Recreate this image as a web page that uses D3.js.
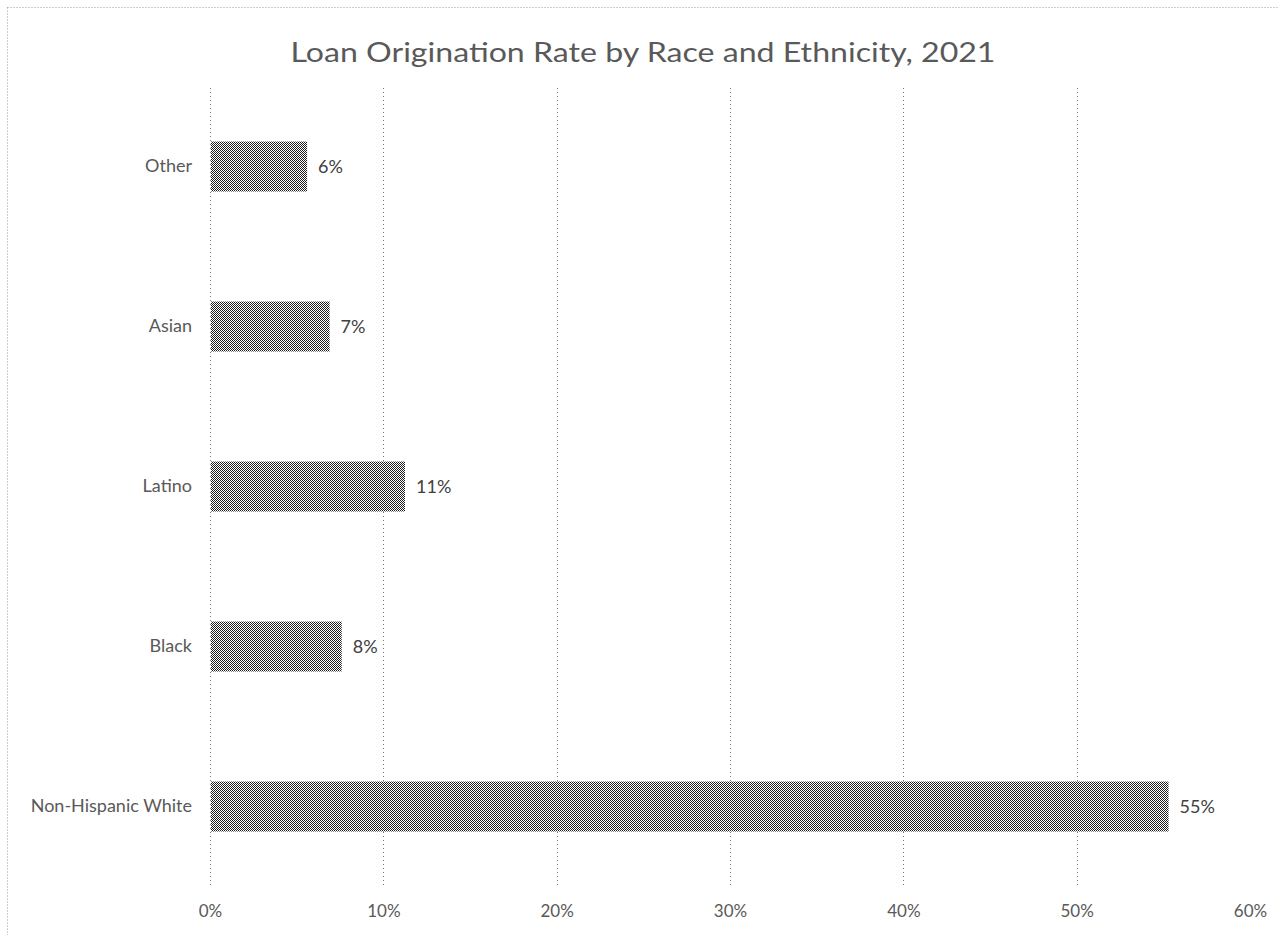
<!DOCTYPE html>
<html>
<head>
<meta charset="utf-8">
<script src="https://cdn.jsdelivr.net/npm/d3@7"></script>
<style>
html,body{margin:0;padding:0;background:#fff;}
svg{display:block;}
</style>
</head>
<body>
<svg id="chart" width="1278" height="935"></svg>
<script>
const categories = ["Other", "Asian", "Latino", "Black", "Non-Hispanic White"];
const values = [0.056, 0.069, 0.1125, 0.076, 0.553];
const valueLabels = ["6%", "7%", "11%", "8%", "55%"];
const tickValues = [0, 0.1, 0.2, 0.3, 0.4, 0.5, 0.6];
const tickLabels = ["0%", "10%", "20%", "30%", "40%", "50%", "60%"];
const title = "Loan Origination Rate by Race and Ethnicity, 2021";

const svg = d3.select("#chart");
const font = "Lato, 'Open Sans', sans-serif";

// pattern for dithered bars
const defs = svg.append("defs");
const pat = defs.append("pattern").attr("id","dither").attr("width",2).attr("height",2)
  .attr("patternUnits","userSpaceOnUse");
pat.append("rect").attr("width",2).attr("height",2).attr("fill","#ffffff");
pat.append("rect").attr("x",0).attr("y",0).attr("width",1).attr("height",1).attr("fill","#1e1e1e");
pat.append("rect").attr("x",1).attr("y",1).attr("width",1).attr("height",1).attr("fill","#1e1e1e");

// chart border (dotted), extends off canvas on right/bottom
svg.append("rect").attr("x",7.5).attr("y",7.5).attr("width",1300).attr("height",1000)
  .attr("fill","none").attr("stroke","#9a9a9a").attr("stroke-width",1).attr("stroke-dasharray","1,2");

const x = d3.scaleLinear().domain([0, 0.6]).range([210, 1250]);
const y = d3.scaleBand().domain(categories).range([86.5, 886.5]).paddingInner(0.6875).paddingOuter(0.34375);

// gridlines
svg.append("g").selectAll("line").data(tickValues.slice(0, 6)).join("line")
  .attr("x1", d => Math.round(x(d)) + 0.5).attr("x2", d => Math.round(x(d)) + 0.5)
  .attr("y1", 88).attr("y2", 886)
  .attr("stroke","#7a7a7a").attr("stroke-width",1).attr("stroke-dasharray","1,3");

// bars
svg.append("g").selectAll("rect").data(categories).join("rect")
  .attr("x", x(0) + 1)
  .attr("y", d => y(d))
  .attr("width", (d,i) => x(values[i]) - x(0) - 1)
  .attr("height", y.bandwidth())
  .attr("fill","url(#dither)");

// data labels
svg.append("g").selectAll("text").data(categories).join("text")
  .attr("x", (d,i) => x(values[i]) + 11)
  .attr("y", d => y(d) + y.bandwidth()/2)
  .attr("dy","0.36em")
  .attr("font-family", font).attr("font-size", 18).attr("fill","#404040")
  .text((d,i) => valueLabels[i]);

// category labels
const yAxis = d3.axisLeft(y).tickSize(0).tickPadding(18);
const ya = svg.append("g").attr("transform","translate(210,0)").call(yAxis);
ya.select(".domain").remove();
ya.selectAll("text").attr("font-family", font).attr("font-size", 18).attr("fill","#595959");

// x axis labels
const xAxis = d3.axisBottom(x).tickValues(tickValues).tickFormat((d,i) => tickLabels[i]).tickSize(0).tickPadding(0);
const xa = svg.append("g").attr("transform","translate(0,905)").call(xAxis);
xa.select(".domain").remove();
xa.selectAll("text").attr("font-family", font).attr("font-size", 17).attr("fill","#595959").attr("dy","0.71em");

// title
svg.append("text").attr("x", 643).attr("y", 62).attr("text-anchor","middle")
  .attr("font-family", font).attr("font-size", 27).attr("fill","#595959")
  .attr("textLength", 705).attr("lengthAdjust","spacingAndGlyphs")
  .text(title);
</script>
</body>
</html>
